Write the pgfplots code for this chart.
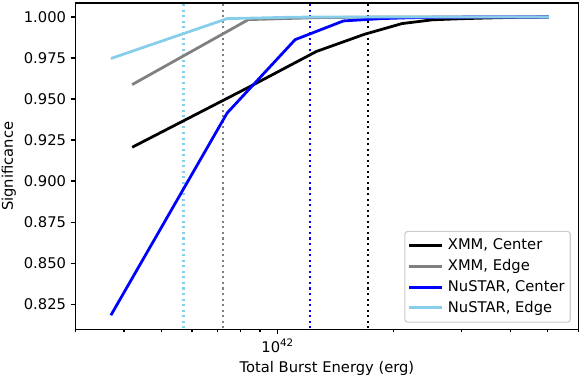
\documentclass[border=0pt]{standalone}
\usepackage{pgfplots}
\pgfplotsset{compat=1.18}
\usepackage{fontspec}
\setmainfont{DejaVu Sans}

\definecolor{skyblue}{RGB}{135,206,235}
\definecolor{mplgray}{RGB}{128,128,128}
\definecolor{legedge}{RGB}{204,204,204}

% XMM points sit at k*4.2e41, NuSTAR points at k*3.7e41
\pgfplotstableread{
E        sig
4.20e41  0.9206
8.40e41  0.9571
1.26e42  0.9790
1.68e42  0.9895
2.10e42  0.9960
2.52e42  0.9983
2.94e42  0.9989
3.36e42  0.9993
3.78e42  0.9996
4.20e42  0.9998
4.62e42  0.9999
5.04e42  1.0000
}\xmmcenter

\pgfplotstableread{
E        sig
4.20e41  0.9588
8.40e41  0.9984
1.26e42  0.9996
1.68e42  0.9999
2.10e42  1.0000
2.52e42  1.0000
2.94e42  1.0000
3.36e42  1.0000
3.78e42  1.0000
4.20e42  1.0000
4.62e42  1.0000
5.04e42  1.0000
}\xmmedge

\pgfplotstableread{
E        sig
3.70e41  0.8182
7.40e41  0.9415
1.11e42  0.9862
1.48e42  0.9976
1.85e42  0.9990
2.22e42  0.9996
2.59e42  0.9998
2.96e42  0.9999
3.33e42  1.0000
3.70e42  1.0000
4.07e42  1.0000
4.44e42  1.0000
4.81e42  1.0000
5.04e42  1.0000
}\nucenter

\pgfplotstableread{
E        sig
3.70e41  0.9747
7.40e41  0.9990
1.11e42  0.9999
1.48e42  1.0000
1.85e42  1.0000
2.22e42  1.0000
2.59e42  1.0000
2.96e42  1.0000
3.33e42  1.0000
3.70e42  1.0000
4.07e42  1.0000
4.44e42  1.0000
4.81e42  1.0000
5.04e42  1.0000
}\nuedge

\begin{document}
\begin{tikzpicture}
\begin{axis}[
    at={(0pt,0pt)}, anchor=south west,
    scale only axis,
    width=361.8pt, height=235.1pt,
    xmode=log,
    xmin=3e41, xmax=6e42,
    ymin=0.8095, ymax=1.0085,
    axis line style={line width=0.8pt},
    every tick/.style={black, line width=0.8pt},
    tick pos=left,
    tick align=outside,
    major tick length=3.5pt,
    minor tick length=2pt,
    xtick={1e42},
    xticklabels={10\textsuperscript{42}},
    minor xtick={3e41,4e41,5e41,6e41,7e41,8e41,9e41,2e42,3e42,4e42,5e42,6e42},
    ytick={0.825,0.85,0.875,0.9,0.925,0.95,0.975,1.0},
    yticklabel style={/pgf/number format/.cd, fixed, fixed zerofill, precision=3},
    /pgf/number format/assume math mode=true,
    tick label style={font=\fontsize{10.6pt}{12.7pt}\selectfont},
    xlabel={Total Burst Energy (erg)},
    ylabel={Significance},
    label style={font=\fontsize{10.6pt}{12.7pt}\selectfont},
    xlabel style={at={(axis description cs:0.5,-0.119)}, anchor=center},
    ylabel style={at={(axis description cs:-0.1332,0.5)}, anchor=center},
    legend cell align=left,
    legend image code/.code={\draw[#1] (0pt,0pt) -- (23.5pt,0pt);},
    legend style={
        at={(axis description cs:1,0)}, anchor=south east,
        xshift=-5.3pt, yshift=4.9pt,
        draw=legedge, line width=0.8pt, rounded corners=2pt,
        fill=white, fill opacity=0.8, text opacity=1,
        font=\fontsize{10.6pt}{12.7pt}\selectfont,
        inner xsep=2pt, inner ysep=3.5pt,
        row sep=1.5pt,
        /tikz/every odd column/.append style={column sep=1.5pt},
    },
]
% threshold markers
\addplot[skyblue, line width=1.5pt, dash pattern=on 1.5pt off 2.5pt, forget plot]
    coordinates {(5.705e41,0.80) (5.705e41,1.02)};
\addplot[mplgray, line width=1.5pt, dash pattern=on 1.5pt off 2.5pt, forget plot]
    coordinates {(7.215e41,0.80) (7.215e41,1.02)};
\addplot[blue, line width=1.5pt, dash pattern=on 1.5pt off 2.5pt, forget plot]
    coordinates {(1.211e42,0.80) (1.211e42,1.02)};
\addplot[black, line width=1.5pt, dash pattern=on 1.5pt off 2.5pt, forget plot]
    coordinates {(1.714e42,0.80) (1.714e42,1.02)};

\addplot[black, line width=2pt] table[x=E, y=sig] {\xmmcenter};
\addlegendentry{XMM, Center}
\addplot[mplgray, line width=2pt] table[x=E, y=sig] {\xmmedge};
\addlegendentry{XMM, Edge}
\addplot[blue, line width=2pt] table[x=E, y=sig] {\nucenter};
\addlegendentry{NuSTAR, Center}
\addplot[skyblue, line width=2pt] table[x=E, y=sig] {\nuedge};
\addlegendentry{NuSTAR, Edge}
\end{axis}
\pgfresetboundingbox
\path (-54.4pt,-35.6pt) rectangle (364.0pt,237.3pt);
\end{tikzpicture}
\end{document}
